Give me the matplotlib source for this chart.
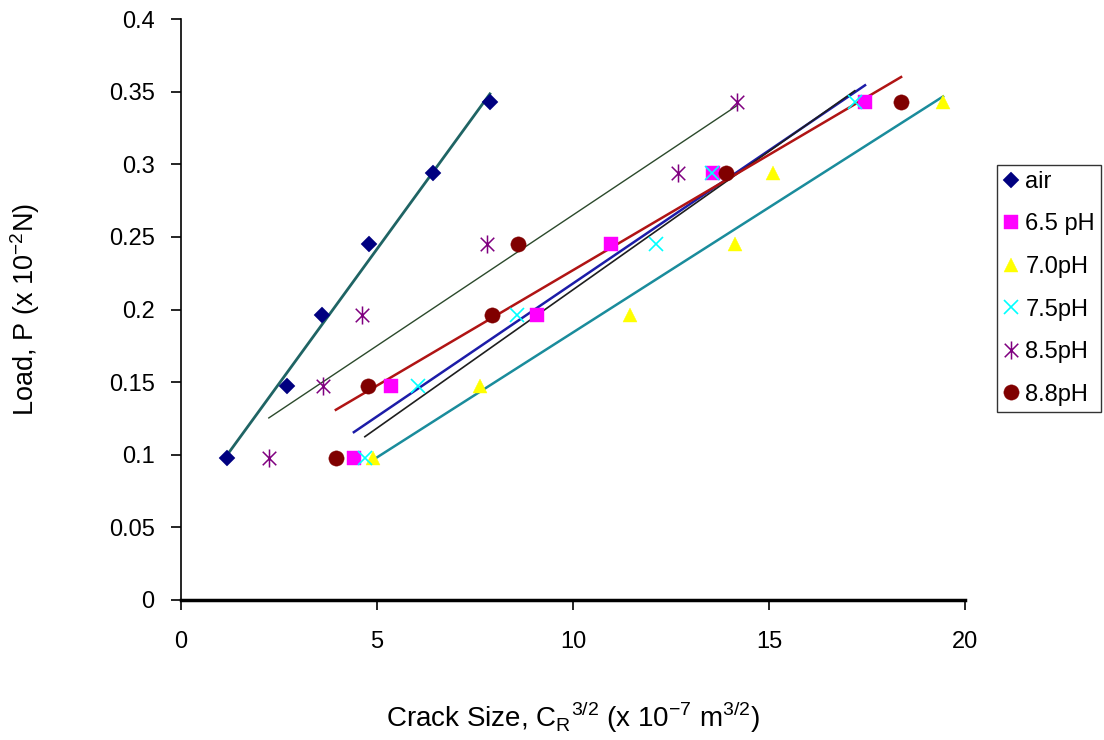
import matplotlib
matplotlib.use("Agg")
import matplotlib.pyplot as plt
from matplotlib.path import Path
import numpy as np

plt.rcParams["font.family"] = ["Liberation Sans", "DejaVu Sans"]
plt.rcParams["mathtext.fontset"] = "custom"
plt.rcParams["mathtext.rm"] = "Liberation Sans"

# load levels (x 10^-2 N)
load = [0.098, 0.147, 0.196, 0.245, 0.294, 0.343]

# crack size C_R^(3/2) (x 10^-7 m^3/2)
crack_air = [1.17, 2.70, 3.60, 4.80, 6.43, 7.88]
crack_65 = [4.41, 5.36, 9.08, 10.97, 13.57, 17.45]
crack_70 = [4.90, 7.63, 11.45, 14.13, 15.10, 19.44]
crack_75 = [4.69, 6.05, 8.57, 12.12, 13.55, 17.19]
crack_85 = [2.24, 3.62, 4.62, 7.81, 12.68, 14.18]
crack_88 = [3.95, 4.77, 7.93, 8.60, 13.90, 18.37]

labels = ["air", "6.5 pH", "7.0pH", "7.5pH", "8.5pH", "8.8pH"]
series = [crack_air, crack_65, crack_70, crack_75, crack_85, crack_88]

# excel style asterisk: an x with a vertical bar through it
star = Path([(0, -1), (0, 1), (-0.75, -0.75), (0.75, 0.75), (-0.75, 0.75), (0.75, -0.75)],
            [Path.MOVETO, Path.LINETO] * 3)

# marker, marker colour, marker size, edge width, trendline colour, trendline width
styles = [
    ("D", "#000080", 8, 0.3, "#1f6464", 2.0),
    ("s", "#ff00ff", 10, 0.3, "#1c1ca8", 1.8),
    ("^", "#ffff00", 10, 0.3, "#1a8c9c", 1.8),
    ("x", "#00ffff", 10, 1.2, "#1e1e1e", 1.2),
    (star, "#800080", 13, 1.1, "#2c4a2c", 1.0),
    ("o", "#800000", 11, 0.3, "#b01414", 1.8),
]

fig = plt.figure(figsize=(11.04, 7.40), dpi=100)
ax = fig.add_axes([181 / 1104, 140 / 740, 784 / 1104, 581 / 740])

# trendlines (linear fit over the data range)
for xs, st in zip(series, styles):
    xs = np.array(xs)
    k, b = np.polyfit(xs, load, 1)
    xr = np.array([xs.min(), xs.max()])
    ax.plot(xr, k * xr + b, color=st[4], lw=st[5], zorder=2)

for xs, lab, (m, mc, ms, mew, lc, lw) in zip(series, labels, styles):
    ax.plot(xs, load, linestyle="none", marker=m, color=mc, markersize=ms,
            markeredgecolor=mc, markeredgewidth=mew, label=lab, zorder=3)

ax.set_xlim(0, 20)
ax.set_ylim(0, 0.4)
ax.set_xticks([0, 5, 10, 15, 20])
yt = [0, 0.05, 0.1, 0.15, 0.2, 0.25, 0.3, 0.35, 0.4]
ax.set_yticks(yt)
ax.set_yticklabels(["0", "0.05", "0.1", "0.15", "0.2", "0.25", "0.3", "0.35", "0.4"])
ax.tick_params(axis="both", direction="out", length=7, width=1.2, labelsize=17)
ax.tick_params(axis="y", pad=12)
ax.tick_params(axis="x", pad=15)

ax.spines["top"].set_visible(False)
ax.spines["right"].set_visible(False)
ax.spines["left"].set_linewidth(1.2)
ax.spines["bottom"].set_linewidth(2.5)

ax.set_xlabel(r"Crack Size, C$_\mathrm{R}$$^\mathrm{3/2}$ (x 10$^\mathrm{-7}$ m$^\mathrm{3/2}$)",
              fontsize=20, labelpad=34)
ax.set_ylabel(r"Load, P (x 10$^\mathrm{-2}$N)", fontsize=19.5, labelpad=48)

leg = fig.legend(loc="upper left", bbox_to_anchor=(997 / 1104, (740 - 165) / 740),
                 fontsize=17, frameon=True, fancybox=False, edgecolor="black",
                 handlelength=0.7, handletextpad=0.25, labelspacing=0.87,
                 borderpad=0.25, borderaxespad=0)
leg.get_frame().set_linewidth(1.0)

fig.savefig("out.png", dpi=100)
